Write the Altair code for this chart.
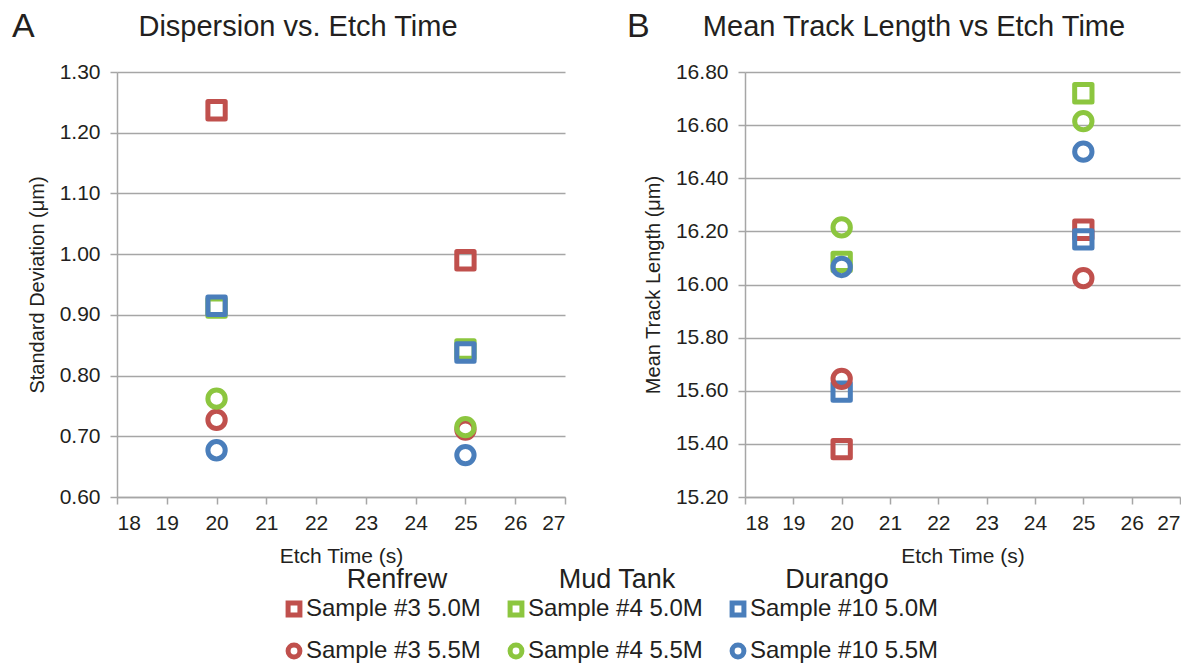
import altair as alt
import pandas as pd

# ---------------- data ----------------
etch_times = [20, 25]
series_names = ["Sample #3 5.0M", "Sample #4 5.0M", "Sample #10 5.0M",
                "Sample #3 5.5M", "Sample #4 5.5M", "Sample #10 5.5M"]
series_colors = ["#C0504D", "#8CC63F", "#4A7EBB", "#C0504D", "#8CC63F", "#4A7EBB"]
series_shapes = ["square", "square", "square", "circle", "circle", "circle"]
group_names = ["Renfrew", "Mud Tank", "Durango"]

# Standard deviation (um) at 20 s and 25 s
sd_s3_50 = [1.237, 0.990]
sd_s4_50 = [0.912, 0.843]
sd_s10_50 = [0.915, 0.838]
sd_s3_55 = [0.727, 0.711]
sd_s4_55 = [0.762, 0.715]
sd_s10_55 = [0.677, 0.669]

# Mean track length (um) at 20 s and 25 s
mtl_s3_50 = [15.380, 16.206]
mtl_s4_50 = [16.085, 16.720]
mtl_s10_50 = [15.597, 16.170]
mtl_s3_55 = [15.645, 16.024]
mtl_s4_55 = [16.215, 16.615]
mtl_s10_55 = [16.066, 16.500]

sd_lists = [sd_s3_50, sd_s4_50, sd_s10_50, sd_s3_55, sd_s4_55, sd_s10_55]
mtl_lists = [mtl_s3_50, mtl_s4_50, mtl_s10_50, mtl_s3_55, mtl_s4_55, mtl_s10_55]

sd_ticks = [0.6, 0.7, 0.8, 0.9, 1.0, 1.1, 1.2, 1.3]
mtl_ticks = [15.2, 15.4, 15.6, 15.8, 16.0, 16.2, 16.4, 16.6, 16.8]
x_ticks = list(range(18, 28))

rows = []
for i, name in enumerate(series_names):
    for j, t in enumerate(etch_times):
        rows.append({"idx": i, "series": name, "time": t,
                     "sd": sd_lists[i][j], "mtl": mtl_lists[i][j]})
df = pd.DataFrame(rows)

# legend table (layout computed from column/row index)
leg_rows = []
for i, name in enumerate(series_names):
    col = i % 3
    row = i // 3
    leg_rows.append({"series": name, "px": 177 + col * 222, "py": 537 + row * 42,
                     "tx": 189 + col * 222})
leg_df = pd.DataFrame(leg_rows)
head_df = pd.DataFrame({"group": group_names,
                        "hx": [280 + k * 220 for k in range(3)]})

FONT = "Liberation Sans"
TXT = "#231F20"
GRID = "#A6A6A6"
W, H = 448, 425
W2 = 435

color_scale = alt.Scale(domain=series_names, range=series_colors)
shape_scale = alt.Scale(domain=series_names, range=series_shapes)


def x_axis():
    return alt.Axis(values=x_ticks, format="d", grid=False, tickSize=7,
                    tickColor=GRID, domainColor=GRID, domainWidth=1.5, tickWidth=1.5,
                    labelFontSize=21, labelColor=TXT, labelFont=FONT, labelPadding=8,
                    title="Etch Time (s)", titleFontSize=21, titleFont=FONT,
                    titleFontWeight="normal", titleColor=TXT, titlePadding=12)


def y_axis(vals, title):
    return alt.Axis(values=vals, format=".2f", grid=True, gridColor=GRID, gridWidth=1.5,
                    tickSize=7, tickColor=GRID, tickWidth=1.5, domainColor=GRID,
                    domainWidth=1.5, labelFontSize=21, labelColor=TXT, labelFont=FONT,
                    labelPadding=10, title=title, titleFontSize=20, titleFont=FONT,
                    titleFontWeight="normal", titleColor=TXT, titlePadding=12)


def points(field, dom, vals, title):
    return alt.Chart(df).mark_point(filled=False, strokeWidth=5, size=300, opacity=1,
                                    strokeJoin="round").encode(
        x=alt.X("time:Q", scale=alt.Scale(domain=[18, 27], nice=False, zero=False), axis=x_axis()),
        y=alt.Y(f"{field}:Q", scale=alt.Scale(domain=dom, nice=False, zero=False),
                axis=y_axis(vals, title)),
        color=alt.Color("series:N", scale=color_scale, legend=None),
        shape=alt.Shape("series:N", scale=shape_scale, legend=None),
        order=alt.Order("idx:Q"),
    )


def label(txt, x, y, size, align="left"):
    one = pd.DataFrame({"t": [txt]})
    return alt.Chart(one).mark_text(font=FONT, fontSize=size, color=TXT, fontWeight="normal",
                                    align=align, baseline="alphabetic").encode(
        x=alt.value(x), y=alt.value(y), text="t:N")


left_pts = points("sd", [0.6, 1.3], sd_ticks, "Standard Deviation (μm)")
right_pts = points("mtl", [15.2, 16.8], mtl_ticks, "Mean Track Length (μm)")

leg_marks = alt.Chart(leg_df).mark_point(filled=False, strokeWidth=5, size=140, opacity=1).encode(
    x=alt.X("px:Q", scale=None),
    y=alt.Y("py:Q", scale=None),
    color=alt.Color("series:N", scale=color_scale, legend=None),
    shape=alt.Shape("series:N", scale=shape_scale, legend=None),
)
leg_text = alt.Chart(leg_df).mark_text(font=FONT, fontSize=24, color=TXT, align="left",
                                       baseline="middle").encode(
    x=alt.X("tx:Q", scale=None),
    y=alt.Y("py:Q", scale=None),
    text="series:N",
)
leg_head = alt.Chart(head_df).mark_text(font=FONT, fontSize=27, color=TXT, align="center",
                                        baseline="alphabetic").encode(
    x=alt.X("hx:Q", scale=None),
    y=alt.value(516),
    text="group:N",
)

left = alt.layer(
    left_pts,
    label("A", -105, -35, 34),
    label("Dispersion vs. Etch Time", 181, -36, 29, "center"),
    leg_marks, leg_text, leg_head,
).properties(width=W, height=H)

right = alt.layer(
    right_pts,
    label("B", -118, -35, 34),
    label("Mean Track Length vs Etch Time", 169, -36, 29, "center"),
).properties(width=W2, height=H)

chart = alt.hconcat(left, right, spacing=180, bounds="flush").configure_view(
    stroke=None
).properties(padding={"left": 12, "top": 10, "right": 0, "bottom": 0}, background="white")

chart.save("out.html", embed_options={"renderer": "svg", "actions": False})
